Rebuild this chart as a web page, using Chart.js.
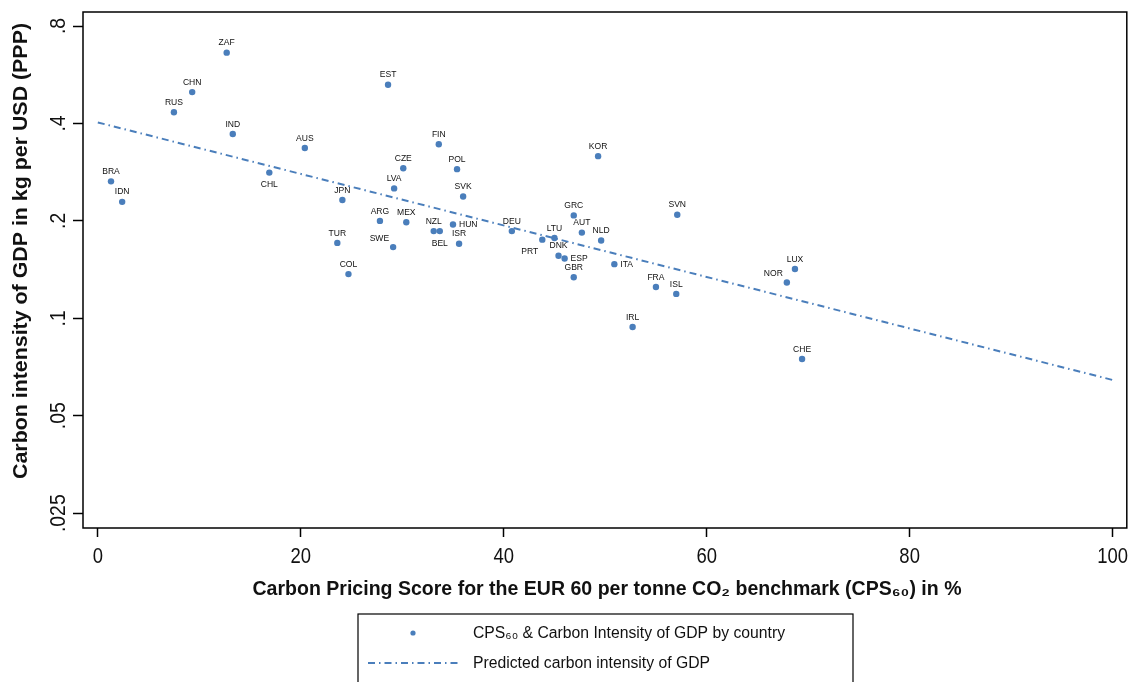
<!DOCTYPE html>
<html>
<head>
<meta charset="utf-8">
<title>Carbon Pricing Score vs Carbon Intensity of GDP</title>
<script src="https://cdn.jsdelivr.net/npm/chart.js@4.4.0/dist/chart.umd.min.js"></script>
<style>
	html, body { margin: 0; padding: 0; background: #fff; }
	#ChartWrap { width: 1130px; height: 682px; }
</style>
</head>
<body>
<div id="ChartWrap"><canvas id="ScatterChart" width="1130" height="682"></canvas></div>
<script>
// @desc data
var countries = ['ZAF', 'CHN', 'RUS', 'IND', 'AUS', 'CHL', 'BRA', 'IDN', 'JPN', 'TUR', 'COL',
	'EST', 'FIN', 'CZE', 'POL', 'LVA', 'SVK', 'ARG', 'MEX', 'NZL', 'BEL', 'HUN', 'ISR', 'SWE',
	'DEU', 'KOR', 'GRC', 'SVN', 'AUT', 'LTU', 'PRT', 'NLD', 'DNK', 'ESP', 'ITA', 'GBR', 'FRA',
	'ISL', 'IRL', 'LUX', 'NOR', 'CHE'];
var cpsScore = [12.7, 9.3, 7.5, 13.3, 20.4, 16.9, 1.3, 2.4, 24.1, 23.6, 24.7,
	28.6, 33.6, 30.1, 35.4, 29.2, 36.0, 27.8, 30.4, 33.1, 33.7, 35.0, 35.6, 29.1,
	40.8, 49.3, 46.9, 57.1, 47.7, 45.0, 43.8, 49.6, 45.4, 46.0, 50.9, 46.9, 55.0,
	57.0, 52.7, 68.7, 67.9, 69.4];
var carbonIntensity = [0.662, 0.500, 0.433, 0.371, 0.336, 0.282, 0.265, 0.229, 0.232, 0.171, 0.137,
	0.527, 0.345, 0.291, 0.289, 0.252, 0.238, 0.200, 0.198, 0.186, 0.186, 0.195, 0.170, 0.166,
	0.186, 0.317, 0.208, 0.209, 0.184, 0.177, 0.175, 0.174, 0.156, 0.153, 0.147, 0.134, 0.125,
	0.119, 0.094, 0.142, 0.129, 0.0749];
var trendX = [0, 100];
var trendY = [0.403, 0.0645];
var xTicks = [0, 20, 40, 60, 80, 100];
var yTicks = [0.025, 0.05, 0.1, 0.2, 0.4, 0.8];
var yTickLabels = ['.025', '.05', '.1', '.2', '.4', '.8'];

// where a country label sits, if not above its dot
var labelSpot = { CHL: 'below', BEL: 'below', PRT: 'lowerleft', HUN: 'right', ITA: 'right',
	ESP: 'right', NOR: 'upperleft', SWE: 'upperleft' };

var blue = '#4a7ebb';
var FONT = '"Liberation Sans", Arial, sans-serif';
var dashDot = [7, 4, 1.5, 4];

// draw text squeezed horizontally (the source uses a narrow face)
var drawText = function(ctx, txt, x, y, font, align, squeeze, rot) {
	ctx.save();
	ctx.font = font;
	ctx.translate(x, y);
	if (rot) ctx.rotate(rot);
	ctx.scale(squeeze, 1);
	ctx.textAlign = align;
	ctx.textBaseline = 'middle';
	ctx.fillText(txt, 0, 0);
	ctx.restore();
};
var fitText = function(ctx, txt, x, y, font, width, rot) {
	ctx.save();
	ctx.font = font;
	var w = ctx.measureText(txt).width;
	ctx.restore();
	drawText(ctx, txt, x, y, font, 'center', width / w, rot);
};

var decorPlugin = {
	id: 'decor',
	afterDraw: function(chart) {
		var ctx = chart.ctx, a = chart.chartArea;
		var xs = chart.scales.x, ys = chart.scales.y;
		ctx.save();
		ctx.strokeStyle = '#000';
		ctx.lineWidth = 1.5;
		ctx.strokeRect(a.left, a.top, a.right - a.left, a.bottom - a.top);
		ctx.fillStyle = '#111';

		// tick labels
		yTicks.forEach(function(v, i) {
			drawText(ctx, yTickLabels[i], 59, ys.getPixelForValue(v), '22px ' + FONT, 'center', 0.88, -Math.PI / 2);
		});
		xTicks.forEach(function(v) {
			drawText(ctx, String(v), xs.getPixelForValue(v), 557, '22px ' + FONT, 'center', 0.84, 0);
		});

		// axis titles
		fitText(ctx, 'Carbon intensity of GDP in kg per USD (PPP)', 21, 251, 'bold 20px ' + FONT, 456, -Math.PI / 2);
		fitText(ctx, 'Carbon Pricing Score for the EUR 60 per tonne CO\u2082 benchmark (CPS\u2086\u2080) in %', 607, 589, 'bold 20px ' + FONT, 709, 0);

		// country labels
		var meta = chart.getDatasetMeta(1);
		meta.data.forEach(function(pt, i) {
			var spot = labelSpot[countries[i]] || 'above';
			var dx = 0, dy = -10, al = 'center';
			if (spot === 'below') { dy = 12; }
			if (spot === 'right') { dx = 6; dy = 0; al = 'left'; }
			if (spot === 'lowerleft') { dx = -4; dy = 12; al = 'right'; }
			if (spot === 'upperleft') { dx = -4; dy = -9; al = 'right'; }
			drawText(ctx, countries[i], pt.x + dx, pt.y + dy, '9.5px ' + FONT, al, 0.9, 0);
		});

		// legend
		ctx.lineWidth = 1.2;
		ctx.strokeStyle = '#000';
		ctx.strokeRect(358, 614, 495, 80);
		ctx.fillStyle = blue;
		ctx.beginPath();
		ctx.arc(413, 633, 2.6, 0, Math.PI * 2);
		ctx.fill();
		ctx.strokeStyle = blue;
		ctx.lineWidth = 2;
		ctx.setLineDash(dashDot);
		ctx.beginPath();
		ctx.moveTo(368, 663);
		ctx.lineTo(459, 663);
		ctx.stroke();
		ctx.setLineDash([]);
		ctx.fillStyle = '#111';
		ctx.save();
		ctx.font = '16px ' + FONT;
		var t1 = 'CPS\u2086\u2080 & Carbon Intensity of GDP by country';
		var t2 = 'Predicted carbon intensity of GDP';
		var w1 = ctx.measureText(t1).width, w2 = ctx.measureText(t2).width;
		ctx.restore();
		drawText(ctx, t1, 473, 634, '16px ' + FONT, 'left', 312 / w1, 0);
		drawText(ctx, t2, 473, 664, '16px ' + FONT, 'left', 237 / w2, 0);
		ctx.restore();
	}
};

var scatterData = countries.map(function(c, i) {
	return { x: cpsScore[i], y: carbonIntensity[i] };
});
var trendData = trendX.map(function(x, i) {
	return { x: x, y: trendY[i] };
});

new Chart(document.getElementById('ScatterChart'), {
	type: 'scatter',
	data: {
		datasets: [
			{
				type: 'line',
				label: 'Predicted carbon intensity of GDP',
				data: trendData,
				borderColor: blue,
				borderWidth: 2,
				borderDash: dashDot,
				pointRadius: 0,
				fill: false
			},
			{
				label: 'CPS60 & Carbon Intensity of GDP by country',
				data: scatterData,
				backgroundColor: blue,
				borderColor: blue,
				borderWidth: 0,
				pointRadius: 3.2,
				pointHoverRadius: 3.2
			}
		]
	},
	options: {
		responsive: false,
		animation: false,
		layout: { padding: { top: 12, right: 3, left: 0, bottom: 84 } },
		plugins: {
			legend: { display: false },
			tooltip: { enabled: false }
		},
		scales: {
			x: {
				type: 'linear',
				min: -1.46,
				max: 101.4,
				afterBuildTicks: function(scale) {
					scale.ticks = xTicks.map(function(v) { return { value: v }; });
				},
				afterFit: function(scale) { scale.height = 70; },
				ticks: { display: false },
				border: { display: false },
				grid: { drawOnChartArea: false, drawTicks: true, tickLength: 9, tickColor: '#000', tickWidth: 1.5 }
			},
			y: {
				type: 'logarithmic',
				min: 0.0225,
				max: 0.884,
				afterBuildTicks: function(scale) {
					scale.ticks = yTicks.map(function(v) { return { value: v }; });
				},
				afterFit: function(scale) { scale.width = 83; },
				ticks: { display: false },
				border: { display: false },
				grid: { drawOnChartArea: false, drawTicks: true, tickLength: 10, tickColor: '#000', tickWidth: 1.5 }
			}
		}
	},
	plugins: [decorPlugin]
});
</script>
</body>
</html>
